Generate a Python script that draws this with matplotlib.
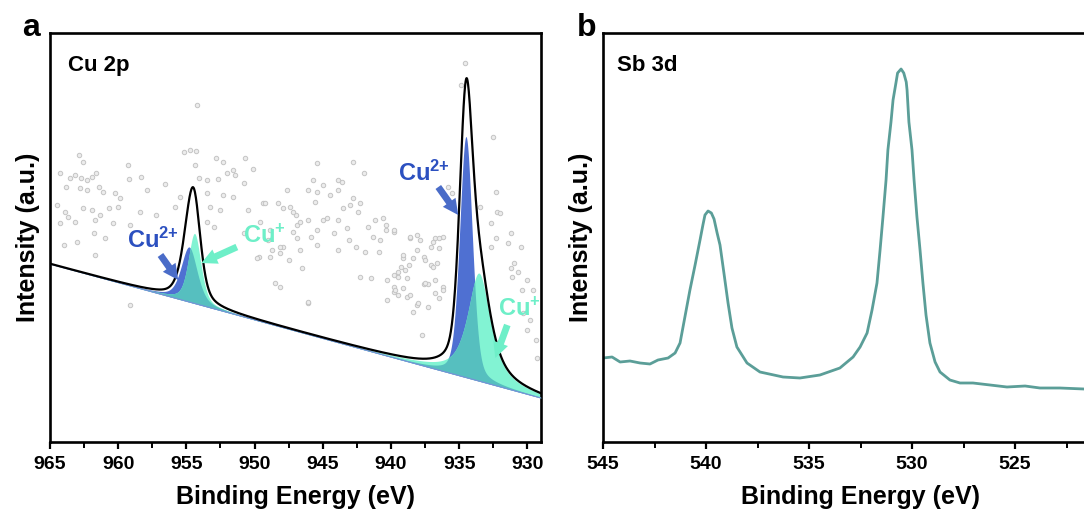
import numpy as np
import matplotlib
matplotlib.use('Agg')
import matplotlib.pyplot as plt
from matplotlib.ticker import MultipleLocator

plt.rcParams['font.family'] = ['Liberation Sans', 'DejaVu Sans']
plt.rcParams['font.weight'] = 'bold'
plt.rcParams['mathtext.fontset'] = 'custom'
plt.rcParams['mathtext.rm'] = 'Liberation Sans:bold'
plt.rcParams['mathtext.it'] = 'Liberation Sans:bold'
plt.rcParams['mathtext.bf'] = 'Liberation Sans:bold'

# ---- Cu 2p fit: linear background + pseudo-Voigt components ----
cu_bg_be = [965.0, 929.0]
cu_bg_int = [178, 44]
cu_states = ['Cu2+', 'Cu+', 'Cu2+', 'Cu+']
cu_centers = [954.8, 954.4, 934.5, 933.55]
cu_heights = [55, 70, 241, 108]
cu_fwhm = [1.4, 1.1, 1.1, 2.0]
cu_eta = [0.5, 0.5, 0.3, 0.8]

# raw Cu 2p counts
cu_raw_be = [954.2, 955.2, 954.7, 954.3, 952.8, 952.3, 950.7, 962.6, 962.9, 959.3,
             954.4, 964.3, 963.5, 963.2, 962.7, 962.3, 961.9, 961.6, 959.2, 958.3,
             956.6, 954.1, 953.5, 952.7, 952.0, 951.6, 951.4, 950.8, 950.1, 963.8,
             962.8, 962.3, 961.4, 961.1, 960.2, 959.9, 957.9, 955.5, 953.5, 952.3,
             951.6, 964.5, 963.9, 963.7, 962.6, 961.9, 961.3, 960.7, 960.0, 958.4,
             957.2, 955.8, 953.3, 952.5, 950.5, 949.4, 947.9, 947.4, 947.0, 964.3,
             963.2, 961.7, 960.4, 959.1, 953.5, 953.0, 949.6, 946.9, 964.0, 963.0,
             961.8, 961.0, 950.8, 948.7, 947.9, 961.7, 949.7, 948.1, 947.5, 945.4,
             942.8, 942.0, 945.7, 945.0, 943.9, 943.6, 947.6, 946.1, 945.4, 943.9,
             942.8, 949.2, 948.3, 945.6, 944.5, 943.5, 943.0, 942.3, 942.4, 947.2,
             946.1, 945.0, 944.7, 943.9, 941.2, 940.6, 946.7, 945.4, 943.2, 941.7,
             940.4, 939.8, 948.9, 947.2, 945.9, 944.2, 941.3, 940.8, 949.0, 946.9,
             943.1, 938.6, 937.9, 936.8, 936.2, 948.1, 946.7, 945.4, 943.9, 942.6,
             941.9, 940.9, 938.1, 937.1, 936.5, 949.8, 948.9, 939.1, 938.4, 937.6,
             946.5, 939.3, 938.7, 937.1, 936.6, 942.3, 941.5, 940.3, 939.8, 939.5,
             938.8, 948.5, 948.1, 939.8, 939.1, 937.6, 937.3, 936.2, 939.8, 939.5,
             938.8, 936.8, 946.1, 940.3, 938.1, 938.4, 937.3, 933.5, 932.2, 932.0,
             932.7, 931.2, 932.3, 931.4, 930.5, 932.7, 931.0, 931.2, 930.7, 931.1,
             930.0, 930.4, 929.6, 930.3, 929.8, 930.0, 929.4, 929.3, 940.4, 939.8,
             938.6, 938.1, 936.9, 936.5, 939.1, 937.5, 936.9, 939.5, 939.0, 936.8,
             937.5, 939.7, 938.6, 938.0, 936.5, 936.2, 937.7, 934.6, 934.9, 932.5,
             935.8, 935.5, 932.3, 959.1, 946.1]
cu_raw_int = [337, 290, 292, 291, 284, 280, 284, 280, 287, 277,
              277, 269, 264, 267, 264, 262, 265, 269, 263, 265,
              258, 264, 262, 263, 269, 272, 267, 259, 273, 255,
              254, 252, 255, 250, 249, 244, 252, 245, 249, 247,
              245, 237, 230, 225, 234, 232, 227, 234, 235, 230,
              227, 235, 235, 232, 232, 239, 234, 235, 227, 219,
              220, 222, 219, 217, 220, 215, 220, 217, 197, 200,
              209, 204, 209, 192, 195, 187, 185, 189, 182, 279,
              280, 269, 262, 257, 262, 260, 252, 252, 250, 252,
              244, 239, 239, 240, 247, 234, 237, 239, 230, 230,
              222, 222, 224, 222, 222, 224, 220, 212, 214, 215,
              212, 210, 212, 210, 205, 209, 205, 202, 202, 204,
              202, 204, 202, 204, 205, 195, 192, 197, 192, 195,
              190, 190, 192, 195, 194, 184, 185, 184, 184, 185,
              174, 175, 177, 177, 179, 165, 164, 162, 167, 165,
              164, 159, 155, 155, 154, 158, 158, 155, 150, 147,
              145, 149, 139, 142, 137, 130, 135, 235, 230, 229,
              219, 209, 204, 199, 195, 195, 179, 174, 170, 165,
              162, 152, 152, 129, 122, 112, 102, 84, 217, 212,
              205, 207, 200, 204, 187, 182, 175, 170, 172, 162,
              159, 152, 147, 139, 144, 152, 107, 379, 357, 305,
              255, 249, 250, 137, 140]

# ---- Sb 3d spectrum ----
sb_be = [545.00, 544.56, 544.17, 543.69, 543.20, 542.72, 542.33, 541.84, 541.50, 541.26,
         540.78, 540.53, 540.29, 540.15, 540.05, 539.90, 539.74, 539.61, 539.46, 539.32,
         539.13, 538.93, 538.74, 538.50, 538.01, 537.38, 536.26, 535.44, 534.47, 533.50,
         532.86, 532.52, 532.18, 531.94, 531.70, 531.55, 531.41, 531.26, 531.17, 531.02,
         530.92, 530.78, 530.70, 530.53, 530.40, 530.28, 530.24, 530.15, 530.00, 529.90,
         529.76, 529.61, 529.47, 529.32, 529.13, 528.88, 528.64, 528.16, 527.67, 527.04,
         526.21, 525.39, 524.51, 523.79, 522.82, 521.65, 520.00]
sb_int = [84, 85, 80, 81, 79, 78, 82, 84, 89, 99,
          152, 177, 202, 217, 227, 231, 229, 223, 209, 197,
          169, 139, 114, 95, 79, 70, 65, 64, 67, 74,
          85, 95, 109, 132, 159, 192, 225, 262, 292, 320,
          342, 359, 369, 373, 369, 360, 352, 320, 292, 262,
          225, 192, 159, 127, 99, 80, 70, 62, 59, 59,
          57, 55, 56, 54, 54, 53, 53]

BLUE = '#4f70d2'
AQUA = '#82f3d3'
TEAL = '#56bfbf'
BLUE_TXT = '#2c50c0'
AQUA_TXT = '#6eefc8'
SB_COLOR = '#5b9e98'


def pseudo_voigt(x, c, h, w, eta):
    g = np.exp(-4 * np.log(2) * ((x - c) / w) ** 2)
    l = 1 / (1 + (2 * (x - c) / w) ** 2)
    return h * (eta * l + (1 - eta) * g)


def style_axes(ax, xlim, ticks):
    ax.set_xlim(*xlim)
    ax.set_ylim(0, 409)
    ax.set_yticks([])
    ax.set_xticks(ticks)
    ax.xaxis.set_minor_locator(MultipleLocator(2.5))
    ax.tick_params(axis='x', which='major', direction='out', length=5, width=1.6,
                   labelsize=14, pad=5)
    ax.tick_params(axis='x', which='minor', direction='out', length=4, width=1.4)
    for lab in ax.get_xticklabels():
        lab.set_fontweight('bold')
    for sp in ax.spines.values():
        sp.set_linewidth(1.9)
    ax.set_xlabel('Binding Energy (eV)', fontsize=18, fontweight='bold', labelpad=9)
    ax.set_ylabel('Intensity (a.u.)', fontsize=18, fontweight='bold', labelpad=7)


fig = plt.figure(figsize=(10.84, 5.22), dpi=100)
ax1 = fig.add_axes([50 / 1084, 80 / 522, 491 / 1084, 409 / 522])
ax2 = fig.add_axes([603 / 1084, 80 / 522, 515 / 1084, 409 / 522])

# ---- panel a: Cu 2p ----
x = np.linspace(929, 965, 2000)
bg = np.interp(x, cu_bg_be[::-1], cu_bg_int[::-1])
comps = [pseudo_voigt(x, c, h, w, e)
         for c, h, w, e in zip(cu_centers, cu_heights, cu_fwhm, cu_eta)]

ax1.plot(cu_raw_be, cu_raw_int, 'o', ms=3.2, mfc='#ececec', mec='#c4c4c4',
         mew=0.7, zorder=1)
for i in range(0, len(comps), 2):
    c2, c1 = comps[i], comps[i + 1]
    ax1.fill_between(x, bg, bg + c2, color=BLUE, lw=0, zorder=2)
    ax1.fill_between(x, bg, bg + c1, color=AQUA, lw=0, zorder=2)
    ax1.fill_between(x, bg, bg + np.minimum(c1, c2), color=TEAL, lw=0, zorder=3)
ax1.plot(x, bg, color='#7890d8', lw=0.8, zorder=3)
ax1.plot(x, bg + np.sum(comps, axis=0), color='black', lw=1.6, zorder=4)

arrow_kw = dict(arrowstyle='simple,head_width=0.8,head_length=0.8,tail_width=0.35',
                lw=0, shrinkA=0, shrinkB=0, mutation_scale=14)
ax1.annotate('', xy=(955.6, 162), xytext=(956.9, 187),
             arrowprops=dict(color='#4a6cc8', **arrow_kw), zorder=5)
ax1.text(959.35, 194, 'Cu$^{2{+}}$', color=BLUE_TXT, fontsize=17, fontweight='bold',
         va='baseline', zorder=6)
ax1.annotate('', xy=(953.9, 179), xytext=(951.3, 195),
             arrowprops=dict(color=AQUA_TXT, **arrow_kw), zorder=5)
ax1.text(950.84, 199, 'Cu$^{{+}}$', color=AQUA_TXT, fontsize=17, fontweight='bold',
         va='baseline', zorder=6)
ax1.annotate('', xy=(935.07, 227), xytext=(936.53, 255),
             arrowprops=dict(color='#4a6cc8', **arrow_kw), zorder=5)
ax1.text(939.47, 261, 'Cu$^{2{+}}$', color=BLUE_TXT, fontsize=17, fontweight='bold',
         va='baseline', zorder=6)
ax1.annotate('', xy=(932.35, 84), xytext=(931.47, 117),
             arrowprops=dict(color=AQUA_TXT, **arrow_kw), zorder=5)
ax1.text(932.13, 126, 'Cu$^{{+}}$', color=AQUA_TXT, fontsize=17, fontweight='bold',
         va='baseline', zorder=6)

ax1.text(0.037, 0.908, 'Cu 2p', transform=ax1.transAxes, fontsize=16,
         fontweight='bold', va='baseline')
style_axes(ax1, (965, 929), [965, 960, 955, 950, 945, 940, 935, 930])

# ---- panel b: Sb 3d ----
ax2.plot(sb_be, sb_int, color=SB_COLOR, lw=2.0)
ax2.text(0.027, 0.907, 'Sb 3d', transform=ax2.transAxes, fontsize=16,
         fontweight='bold', va='baseline')
style_axes(ax2, (545, 520), [545, 540, 535, 530, 525])

fig.text(22 / 1084, (522 - 36) / 522, 'a', fontsize=23, fontweight='bold', va='baseline')
fig.text(577 / 1084, (522 - 36) / 522, 'b', fontsize=23, fontweight='bold', va='baseline')

fig.savefig('out.png', dpi=100)
